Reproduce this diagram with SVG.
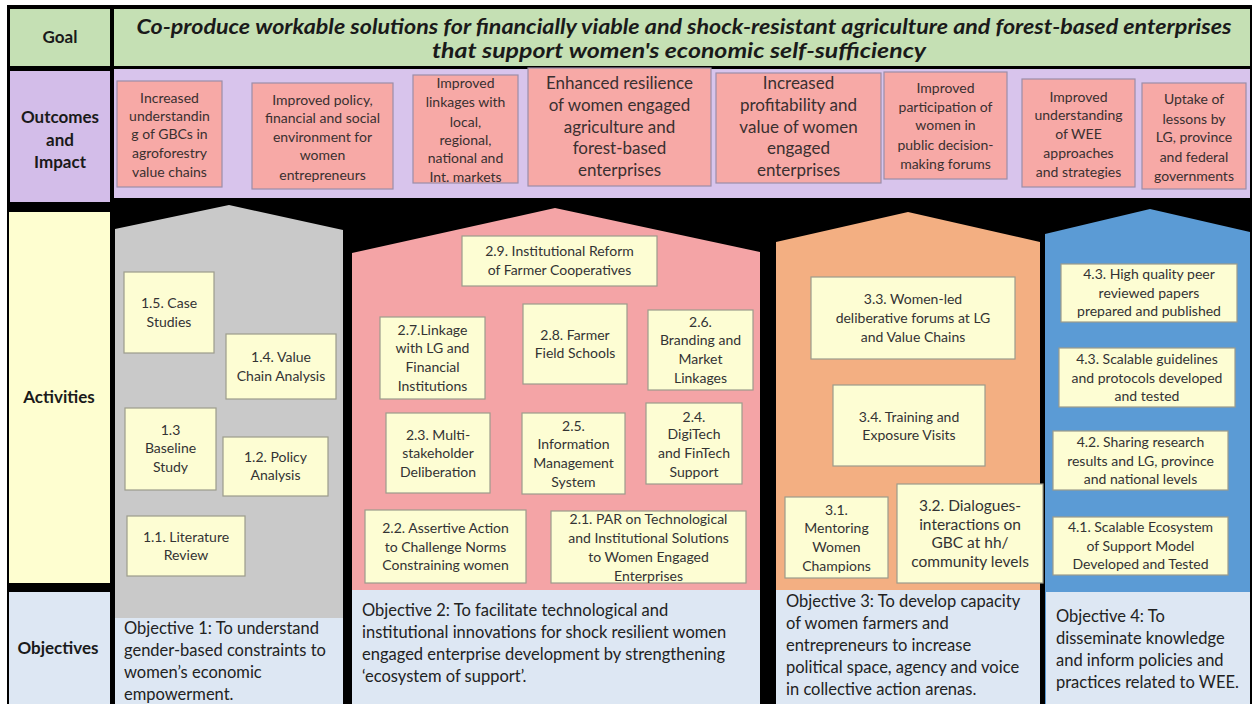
<svg xmlns="http://www.w3.org/2000/svg" width="1252" height="704" viewBox="0 0 1252 704">
<style>
text{font-family:Lato,"Liberation Sans",sans-serif;fill:#333}
.lbl{font-weight:bold;font-size:17px;fill:#1a1a1a;text-anchor:middle}
.goal{font-weight:bold;font-style:italic;font-size:21px;fill:#1a1a1a;text-anchor:middle}
.oc{fill:#f7a9a6;stroke:#9b8ea8;stroke-width:1.2}
.ot{font-size:14px;text-anchor:middle;fill:#3a3030}
.ob{font-size:17px;text-anchor:middle;fill:#3a3030}
.ab{fill:#fdfdd3;stroke:#9c9c8c;stroke-width:1.2}
.at{font-size:14px;text-anchor:middle;fill:#333}
.obj{fill:#dde7f3}
.ojt{font-size:16.5px;fill:#222}
</style>
<rect x="0" y="0" width="1252" height="704" fill="#ffffff"/>
<rect x="7" y="5" width="1245" height="699" fill="#000000"/>

<g id="goal">
<rect x="10" y="9" width="100" height="57" fill="#c5e0b4"/>
<text class="lbl" x="60" y="43">Goal</text>
<rect x="114" y="9" width="1136" height="57" fill="#c5e0b4"/>
<text class="goal" x="684" y="34" textLength="1095" lengthAdjust="spacingAndGlyphs">Co-produce workable solutions for financially viable and shock-resistant agriculture and forest-based enterprises</text>
<text class="goal" x="679" y="58" textLength="494" lengthAdjust="spacingAndGlyphs">that support women's economic self-sufficiency</text>
</g>

<g id="outcomes">
<rect x="10" y="71" width="100" height="131" fill="#d3bde9"/>
<text class="lbl" x="60" y="123">Outcomes</text>
<text class="lbl" x="60" y="146">and</text>
<text class="lbl" x="60" y="168">Impact</text>
<rect x="114" y="69" width="1136" height="129" fill="#d8c4ec"/>
</g>

<g id="outcome-1">
<rect class="oc" x="117" y="81" width="105" height="106"/>
<text class="ot" x="169.5" y="103">Increased</text>
<text class="ot" x="169.5" y="121">understandin</text>
<text class="ot" x="169.5" y="139">g of GBCs in</text>
<text class="ot" x="169.5" y="158">agroforestry</text>
<text class="ot" x="169.5" y="177">value chains</text>
</g>
<g id="outcome-2">
<rect class="oc" x="252" y="83" width="141" height="106"/>
<text class="ot" x="322.5" y="105">Improved  policy,</text>
<text class="ot" x="322.5" y="123">financial and social</text>
<text class="ot" x="322.5" y="142">environment  for</text>
<text class="ot" x="322.5" y="160">women</text>
<text class="ot" x="322.5" y="180">entrepreneurs</text>
</g>
<g id="outcome-3">
<rect class="oc" x="413" y="75" width="105" height="108"/>
<text class="ot" x="465.5" y="88">Improved</text>
<text class="ot" x="465.5" y="107">linkages with</text>
<text class="ot" x="465.5" y="127">local,</text>
<text class="ot" x="465.5" y="145">regional,</text>
<text class="ot" x="465.5" y="163">national and</text>
<text class="ot" x="465.5" y="182">Int. markets</text>
</g>
<g id="outcome-4">
<rect class="oc" x="528" y="68" width="183" height="118"/>
<text class="ob" x="619.5" y="89">Enhanced resilience</text>
<text class="ob" x="619.5" y="111">of women engaged</text>
<text class="ob" x="619.5" y="133">agriculture and</text>
<text class="ob" x="619.5" y="154">forest-based</text>
<text class="ob" x="619.5" y="176">enterprises</text>
</g>
<g id="outcome-5">
<rect class="oc" x="716" y="73" width="165" height="110"/>
<text class="ob" x="798.5" y="89">Increased</text>
<text class="ob" x="798.5" y="111">profitability and</text>
<text class="ob" x="798.5" y="133">value of women</text>
<text class="ob" x="798.5" y="154">engaged</text>
<text class="ob" x="798.5" y="176">enterprises</text>
</g>
<g id="outcome-6">
<rect class="oc" x="884" y="72" width="123" height="107"/>
<text class="ot" x="945.5" y="93">Improved</text>
<text class="ot" x="945.5" y="112">participation of</text>
<text class="ot" x="945.5" y="130">women  in</text>
<text class="ot" x="945.5" y="150">public decision-</text>
<text class="ot" x="945.5" y="169">making forums</text>
</g>
<g id="outcome-7">
<rect class="oc" x="1022" y="79" width="113" height="108"/>
<text class="ot" x="1078.5" y="102">Improved</text>
<text class="ot" x="1078.5" y="120">understanding</text>
<text class="ot" x="1078.5" y="139">of WEE</text>
<text class="ot" x="1078.5" y="158">approaches</text>
<text class="ot" x="1078.5" y="177">and strategies</text>
</g>
<g id="outcome-8">
<rect class="oc" x="1142" y="83" width="104" height="106"/>
<text class="ot" x="1194" y="104">Uptake of</text>
<text class="ot" x="1194" y="124">lessons by</text>
<text class="ot" x="1194" y="142">LG, province</text>
<text class="ot" x="1194" y="162">and federal</text>
<text class="ot" x="1194" y="181">governments</text>
</g>

<g id="activities-label">
<rect x="9" y="212" width="101" height="371" fill="#fefed0"/>
<text class="lbl" x="59" y="403">Activities</text>
</g>
<g id="objectives-label">
<rect x="9" y="592" width="101" height="112" fill="#dde7f3"/>
<text class="lbl" x="58" y="654">Objectives</text>
</g>

<g id="objective-1">
<polygon points="115,229 229,205 343,230 343,704 115,704" fill="#c9c9c9"/>
<rect class="obj" x="115" y="618" width="228" height="86"/>
<text class="ojt" x="124" y="634">Objective 1: To understand</text>
<text class="ojt" x="124" y="656">gender-based constraints to</text>
<text class="ojt" x="124" y="678">women’s economic</text>
<text class="ojt" x="124" y="700">empowerment.</text>
</g>
<g id="act-1-5"><rect class="ab" x="124" y="272" width="90" height="81"/>
<text class="at" x="169" y="308">1.5. Case</text><text class="at" x="169" y="327">Studies</text></g>
<g id="act-1-4"><rect class="ab" x="226" y="334" width="110" height="65"/>
<text class="at" x="281" y="362">1.4. Value</text><text class="at" x="281" y="381">Chain Analysis</text></g>
<g id="act-1-3"><rect class="ab" x="125" y="408" width="91" height="82"/>
<text class="at" x="170.5" y="435">1.3</text><text class="at" x="170.5" y="453">Baseline</text><text class="at" x="170.5" y="472">Study</text></g>
<g id="act-1-2"><rect class="ab" x="223" y="437" width="105" height="59"/>
<text class="at" x="275.5" y="462">1.2. Policy</text><text class="at" x="275.5" y="480">Analysis</text></g>
<g id="act-1-1"><rect class="ab" x="127" y="516" width="118" height="60"/>
<text class="at" x="186" y="542">1.1. Literature</text><text class="at" x="186" y="560">Review</text></g>

<g id="objective-2">
<polygon points="352,253 555,208 760,252 760,704 352,704" fill="#f4a4a6"/>
<rect class="obj" x="352" y="590" width="408" height="114"/>
<text class="ojt" x="362" y="616">Objective 2: To facilitate technological and</text>
<text class="ojt" x="362" y="638">institutional innovations for shock resilient women</text>
<text class="ojt" x="362" y="660">engaged enterprise development by strengthening</text>
<text class="ojt" x="362" y="682">‘ecosystem of support’.</text>
</g>
<g id="act-2-9"><rect class="ab" x="462" y="236" width="195" height="50"/>
<text class="at" x="559.5" y="256">2.9. Institutional Reform</text><text class="at" x="559.5" y="275">of Farmer Cooperatives</text></g>
<g id="act-2-7"><rect class="ab" x="380" y="317" width="105" height="82"/>
<text class="at" x="432.5" y="335">2.7.Linkage</text><text class="at" x="432.5" y="353">with LG and</text><text class="at" x="432.5" y="372">Financial</text><text class="at" x="432.5" y="391">Institutions</text></g>
<g id="act-2-8"><rect class="ab" x="523" y="304" width="104" height="80"/>
<text class="at" x="575" y="340">2.8. Farmer</text><text class="at" x="575" y="358">Field Schools</text></g>
<g id="act-2-6"><rect class="ab" x="648" y="310" width="105" height="80"/>
<text class="at" x="700.5" y="327">2.6.</text><text class="at" x="700.5" y="345">Branding and</text><text class="at" x="700.5" y="364">Market</text><text class="at" x="700.5" y="383">Linkages</text></g>
<g id="act-2-3"><rect class="ab" x="386" y="413" width="104" height="80"/>
<text class="at" x="438" y="440">2.3. Multi-</text><text class="at" x="438" y="458">stakeholder</text><text class="at" x="438" y="477">Deliberation</text></g>
<g id="act-2-5"><rect class="ab" x="522" y="413" width="103" height="81"/>
<text class="at" x="573.5" y="431">2.5.</text><text class="at" x="573.5" y="449">Information</text><text class="at" x="573.5" y="468">Management</text><text class="at" x="573.5" y="487">System</text></g>
<g id="act-2-4"><rect class="ab" x="646" y="403" width="96" height="81"/>
<text class="at" x="694" y="422">2.4.</text><text class="at" x="694" y="439">DigiTech</text><text class="at" x="694" y="458">and FinTech</text><text class="at" x="694" y="477">Support</text></g>
<g id="act-2-2"><rect class="ab" x="365" y="510" width="161" height="73"/>
<text class="at" x="445.5" y="533">2.2. Assertive Action</text><text class="at" x="445.5" y="552">to Challenge Norms</text><text class="at" x="445.5" y="570">Constraining women</text></g>
<g id="act-2-1"><rect class="ab" x="551" y="511" width="195" height="72"/>
<text class="at" x="648.5" y="524">2.1. PAR on Technological</text><text class="at" x="648.5" y="543">and Institutional Solutions</text><text class="at" x="648.5" y="562">to Women  Engaged</text><text class="at" x="648.5" y="581">Enterprises</text></g>

<g id="objective-3">
<polygon points="776,242 908,212 1040,242 1040,704 776,704" fill="#f3af82"/>
<rect class="obj" x="776" y="590" width="264" height="114"/>
<text class="ojt" x="786" y="607">Objective 3: To develop capacity</text>
<text class="ojt" x="786" y="629">of women farmers and</text>
<text class="ojt" x="786" y="651">entrepreneurs to increase</text>
<text class="ojt" x="786" y="673">political space, agency and voice</text>
<text class="ojt" x="786" y="695">in collective action arenas.</text>
</g>
<g id="act-3-3"><rect class="ab" x="811" y="277" width="204" height="82"/>
<text class="at" x="913" y="304">3.3. Women-led</text><text class="at" x="913" y="323">deliberative forums at LG</text><text class="at" x="913" y="342">and Value Chains</text></g>
<g id="act-3-4"><rect class="ab" x="833" y="385" width="152" height="81"/>
<text class="at" x="909" y="422">3.4. Training and</text><text class="at" x="909" y="440">Exposure Visits</text></g>
<g id="act-3-1"><rect class="ab" x="785" y="497" width="103" height="81"/>
<text class="at" x="836.5" y="515">3.1.</text><text class="at" x="836.5" y="533">Mentoring</text><text class="at" x="836.5" y="552">Women</text><text class="at" x="836.5" y="571">Champions</text></g>
<g id="act-3-2"><rect class="ab" x="897" y="484" width="146" height="99"/>
<text class="at" style="font-size:15.5px" x="970" y="511">3.2. Dialogues-</text><text class="at" style="font-size:15.5px" x="970" y="530">interactions on</text><text class="at" style="font-size:15.5px" x="970" y="548">GBC at hh/</text><text class="at" style="font-size:15.5px" x="970" y="567">community levels</text></g>

<g id="objective-4">
<polygon points="1045,234 1150,209 1250,232 1250,704 1045,704" fill="#5b9bd5"/>
<rect class="obj" x="1046" y="592" width="204" height="112"/>
<text class="ojt" x="1056" y="622">Objective 4: To</text>
<text class="ojt" x="1056" y="644">disseminate knowledge</text>
<text class="ojt" x="1056" y="666">and inform policies and</text>
<text class="ojt" x="1056" y="688">practices related to WEE.</text>
</g>
<g id="act-4-3a"><rect class="ab" x="1061" y="264" width="176" height="58"/>
<text class="at" x="1149" y="279">4.3. High quality peer</text><text class="at" x="1149" y="298">reviewed papers</text><text class="at" x="1149" y="316">prepared and published</text></g>
<g id="act-4-3b"><rect class="ab" x="1059" y="348" width="176" height="59"/>
<text class="at" x="1147" y="364">4.3. Scalable guidelines</text><text class="at" x="1147" y="383">and protocols  developed</text><text class="at" x="1147" y="401">and tested</text></g>
<g id="act-4-2"><rect class="ab" x="1053" y="431" width="175" height="59"/>
<text class="at" x="1140.5" y="447">4.2. Sharing research</text><text class="at" x="1140.5" y="466">results and LG, province</text><text class="at" x="1140.5" y="484">and national levels</text></g>
<g id="act-4-1"><rect class="ab" x="1053" y="517" width="175" height="58"/>
<text class="at" x="1140.5" y="532">4.1. Scalable Ecosystem</text><text class="at" x="1140.5" y="551">of Support  Model</text><text class="at" x="1140.5" y="569">Developed and Tested</text></g>

<g id="connectors"></g>
</svg>
